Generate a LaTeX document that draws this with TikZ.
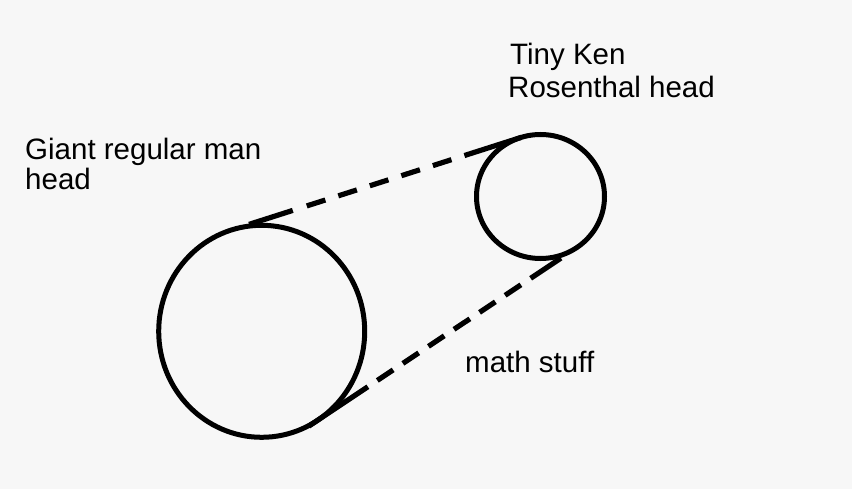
\documentclass[tikz,border=0pt]{standalone}
\usepackage{fontspec}
\setmainfont{Liberation Sans}
\usetikzlibrary{shapes.geometric,calc}
\definecolor{paper}{RGB}{247,247,247}
\tikzset{
  head/.style={ellipse, draw=black, line width=5pt, inner sep=0pt, outer sep=0pt},
  label/.style={anchor=base west, inner sep=0pt, font=\fontsize{29.5pt}{33pt}\selectfont},
  link/.style={draw=black, line width=5.2pt, line cap=butt}
}
\begin{document}
\begin{tikzpicture}[x=1pt, y=-1pt]
\fill[paper] (0,0) rectangle (852,489);
\useasboundingbox (0,0) rectangle (852,489);
\node[head, minimum width=206pt, minimum height=212pt] (big) at (261.7,331.3) {};
\node[head, minimum width=128pt, minimum height=124pt] (small) at (540.5,196.5) {};
% upper connector
\coordinate (ub) at (small.108.2);
\coordinate (ua) at ($(big.108.2)!21pt!(ub)$);
\draw[link, dash pattern=on 45.9pt off 14.7pt
  on 19.5pt off 13.6pt on 19.5pt off 13.6pt on 19.5pt off 13.6pt
  on 19.5pt off 13.6pt on 19.5pt off 13.6pt on 100pt off 0pt] (ua) -- (ub);
% lower connector
\coordinate (lt) at (small.-56.6);
\coordinate (la) at ($(big.-56.6)!-14pt!(lt)$);
\coordinate (lb) at ($(big.-56.6)!289pt!(lt)$);
\draw[link, dash pattern=on 71pt off 11.4pt
  on 19pt off 11.7pt on 19pt off 11.7pt on 19pt off 11.7pt
  on 19pt off 11.7pt on 19pt off 11.7pt on 19pt off 11.7pt on 100pt off 0pt] (la) -- (lb);
\node[label] (t1) at (510,65) {Tiny Ken};
\node[label] (t2) at (508,98) {Rosenthal head};
\node[label] (g1) at (25,160) {Giant regular man};
\node[label] (g2) at (25,190) {head};
\node[label] (m) at (465,372) {math stuff};
\end{tikzpicture}
\end{document}
